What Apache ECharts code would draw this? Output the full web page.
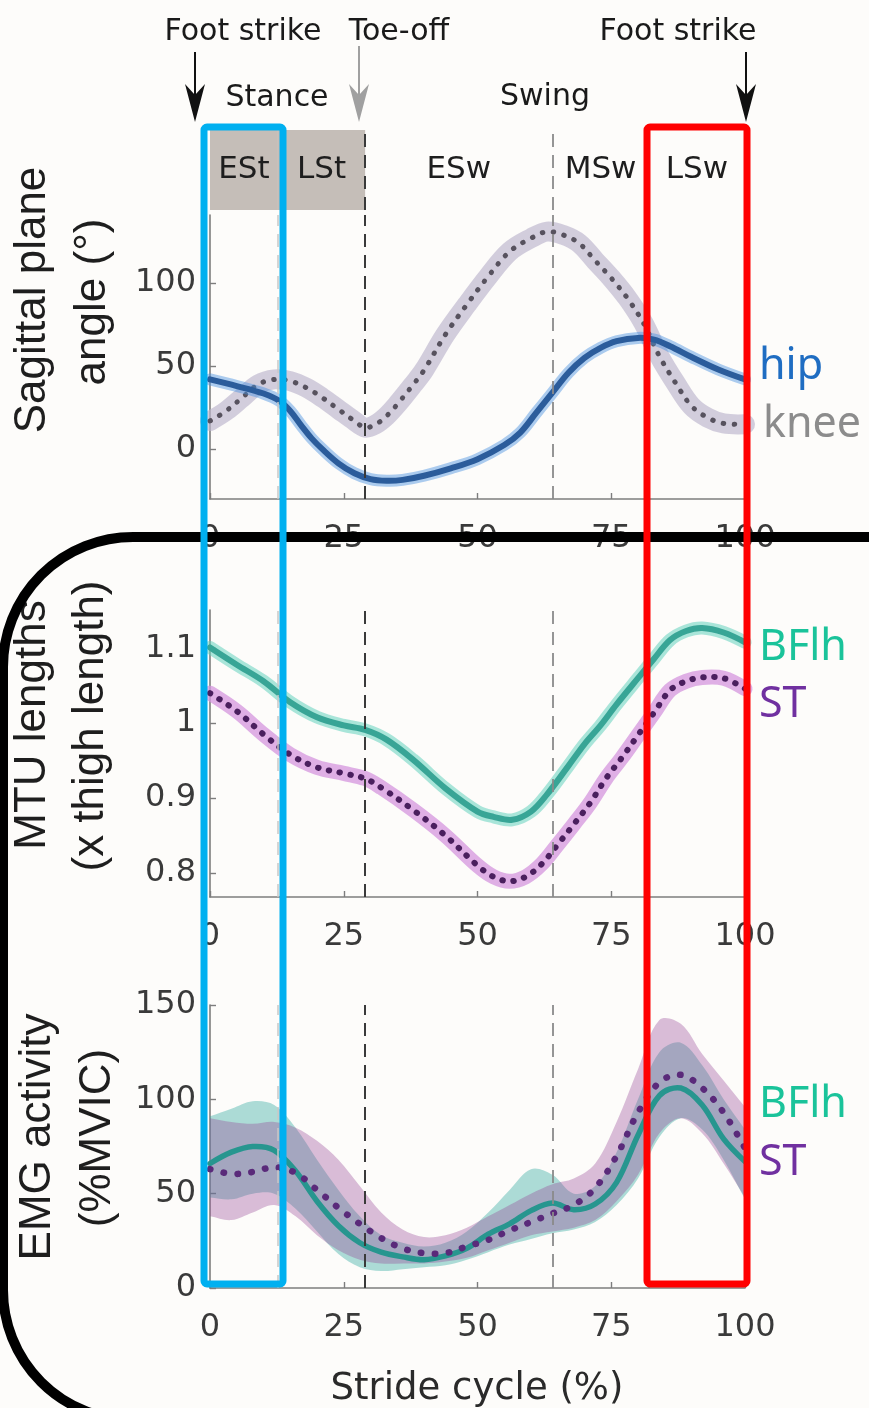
<!DOCTYPE html>
<html><head><meta charset="utf-8">
<script src="https://cdn.jsdelivr.net/npm/echarts@6/dist/echarts.min.js"></script>
<style>html,body{margin:0;padding:0;background:#fdfcfa}#c{width:869px;height:1408px}</style>
</head><body><div id="c"></div>
<script>
// ---------- data ----------
const xTicks = [0, 25, 50, 75, 100];
const phaseNames = ['ESt', 'LSt', 'ESw', 'MSw', 'LSw'];
const phaseBounds = [0, 12.7, 29, 64, 82, 100];
const eventLines = [12.7, 29, 64, 82];

const angleTicks = [0, 50, 100];
const mtuTicks = [0.8, 0.9, 1, 1.1];
const emgTicks = [0, 50, 100, 150];

const hipX = [0,5,10,13,15,17,19,21,24,27,30,33,36,40,45,50,55,58,61,64,67,70,73,76,80,83,86,90,95,100];
const hipY = [42,38,33.5,29,23,14.5,6.5,0,-8.5,-14.5,-18,-19,-18.5,-16,-11.5,-6,2.5,10,22,34,46,55,61,65,67,66,62,55.5,48,42];

const kneeX = [0,3,6,9,12,15,18,21,24,27,29,31,33,35,38,40,44,48,52,56,60,63,66,69,72,75,78,81,84,87,90,93,96,100];
const kneeY = [17,23,31,39,42,41,37,31,24,17,13,15,20,27,39,47.5,69,87,104,119,127,131,129,124,113.5,103,91,76,56,40,26,19,15.5,15];

const mtuBX = [0,5,10,15,20,25,29,33,38,44,50,53,56.5,60,63,67,70,73,76,80,83,86,89,92,96,100];
const mtuBY = [1.101,1.078,1.056,1.028,1.008,0.997,0.991,0.978,0.951,0.913,0.882,0.875,0.871,0.882,0.905,0.943,0.972,0.997,1.025,1.06,1.086,1.111,1.123,1.127,1.121,1.108];

const mtuSX = [0,5,10,15,20,25,29,32,38,44,50,53,56,59,62,65,68,71,74,77,80,83,86,89,92,96,100];
const mtuSY = [1.04,1.016,0.985,0.958,0.941,0.933,0.926,0.914,0.884,0.85,0.81,0.795,0.789,0.795,0.812,0.838,0.865,0.893,0.926,0.954,0.984,1.014,1.044,1.056,1.061,1.06,1.046];

const emgX   = [0,4,8,12,16,20,24,28,32,36,40,44,48,52,56,60,64,68,72,76,80,84,88,92,96,100];
const emgBY  = [66,72,75,73,62,46,33,24,19,16.5,15,17,21,28.5,34,41,45,41.5,44.5,56,81,102,106,97,79,67];
const emgSY  = [63,60.5,61.5,64,61,52,42.5,34,26.5,21,18.5,18.5,22,25.5,30.5,35,39.5,44,53,70,93,109,113,106,93,74];
const emgBLo = [48,47,50,50,42,30,18,11,9,10,11,12,15,19,23,26,29,31,35,44,58,80,90,84,68,47];
const emgBHi = [91,95,99,97,85,68,52,38,28,24,22,24,30,40,52,63,60,50,54,72,100,125,130,118,100,84];
const emgSLo = [38,36,40,44,38,28,20,15,13,13,13,14,16,20,24,28,30,32,36,46,60,82,90,82,66,48];
const emgSHi = [90,88,87,88,85,78,68,54,40,31,27,28,32,38,44,50,55,58,66,88,116,142,140,124,110,96];

// ---------- helpers ----------
const F = 'DejaVu Sans';
const AX = '#7d7d7d';
const chart = echarts.init(document.getElementById('c'), null, {renderer: 'canvas', width: 869, height: 1408});

const gridBase = {left: 210, width: 535, containLabel: false, outerBoundsMode: 'none'};
const grids = [
  Object.assign({top: 130, height: 80}, gridBase),
  Object.assign({top: 215, height: 284}, gridBase),
  Object.assign({top: 610, height: 287}, gridBase),
  Object.assign({top: 1005, height: 283}, gridBase)
];

function xAx(gi) {
  return {
    gridIndex: gi, type: 'value', min: 0, max: 100, interval: 25,
    axisLine: {show: true, onZero: false, lineStyle: {color: AX, width: 1.6}},
    axisTick: {show: true, inside: true, length: 6, lineStyle: {color: AX, width: 1.4}},
    axisLabel: {show: true, fontSize: 32, fontFamily: F, color: '#3a3a3a', margin: 24, customValues: xTicks},
    splitLine: {show: false}
  };
}
function yAx(gi, min, max, ticks) {
  return {
    gridIndex: gi, type: 'value', min: min, max: max,
    axisLine: {show: true, onZero: false, lineStyle: {color: AX, width: 1.6}},
    axisTick: {show: true, inside: true, length: 6, lineStyle: {color: AX, width: 1.4}, customValues: ticks},
    axisLabel: {show: true, fontSize: 32, fontFamily: F, color: '#3a3a3a', margin: 14, customValues: ticks},
    splitLine: {show: false}
  };
}

const dashStyles = [
  {color: '#c8c8c8', width: 1.5},
  {color: '#3a3a3a', width: 2},
  {color: '#8a8a8a', width: 1.8},
  {color: '#7a7a7a', width: 1.8}
];
function vlines(skipFirst) {
  const data = [];
  eventLines.forEach((x, i) => {
    if (skipFirst && i === 0) return;
    data.push({xAxis: x, lineStyle: Object.assign({type: [13, 8]}, dashStyles[i])});
  });
  return {silent: true, symbol: ['none', 'none'], label: {show: false}, animation: false, data: data};
}

// smooth curve through the data, positioned by the axis scales (api.coord)
function curve(gi, xs, ys, stroke, width, dash, extra) {
  return Object.assign({
    type: 'custom', xAxisIndex: gi, yAxisIndex: gi, silent: true, animation: false,
    data: [[xs[0], ys[0]]],
    renderItem: function (params, api) {
      const pts = xs.map((x, i) => api.coord([x, ys[i]]));
      const style = {stroke: stroke, lineWidth: width, fill: null, lineCap: 'round', lineJoin: 'round'};
      if (dash) style.lineDash = dash;
      return {type: 'polyline', shape: {points: pts, smooth: 0.35}, style: style};
    }
  }, extra || {});
}
// shaded band between lower and upper bounds
function band(gi, xs, lo, hi, color) {
  return {
    type: 'custom', xAxisIndex: gi, yAxisIndex: gi, silent: true, animation: false,
    data: [[xs[0], lo[0]]],
    renderItem: function (params, api) {
      const up = xs.map((x, i) => api.coord([x, hi[i]]));
      const dn = xs.map((x, i) => api.coord([x, lo[i]])).reverse();
      const pts = [up[0]].concat(up, [up[up.length - 1]], [dn[0]], dn, [dn[dn.length - 1]]);
      return {type: 'polygon', shape: {points: pts, smooth: 0.35}, style: {fill: color}};
    }
  };
}

// ---------- series ----------
const series = [];
series.push({
  type: 'line', xAxisIndex: 0, yAxisIndex: 0, data: [[0, 0]], symbol: 'none', silent: true,
  lineStyle: {opacity: 0}, animation: false,
  markArea: {
    silent: true, animation: false,
    label: {show: true, position: 'inside', fontSize: 31, fontFamily: F, color: '#1e1e1e'},
    data: phaseNames.map((n, i) => [
      {name: n, xAxis: phaseBounds[i], yAxis: 0, itemStyle: {color: i < 2 ? '#c5beb8' : 'rgba(0,0,0,0)'}},
      {xAxis: phaseBounds[i + 1], yAxis: 1}
    ])
  },
  markLine: vlines(true)
});
// panel 1: angles
series.push(curve(1, kneeX, kneeY, 'rgba(188,180,204,0.65)', 20));
series.push(curve(1, kneeX, kneeY, '#57525e', 5, [0.5, 10.5]));
series.push(curve(1, hipX, hipY, 'rgba(70,145,225,0.45)', 12));
series.push(curve(1, hipX, hipY, '#2b5c9b', 6));
series.push({type: 'line', xAxisIndex: 1, yAxisIndex: 1, data: [], markLine: vlines(false)});
// panel 2: MTU lengths
series.push(curve(2, mtuBX, mtuBY, 'rgba(100,210,190,0.55)', 13));
series.push(curve(2, mtuBX, mtuBY, '#38a596', 6));
series.push(curve(2, mtuSX, mtuSY, 'rgba(212,150,222,0.75)', 15));
series.push(curve(2, mtuSX, mtuSY, '#4a1f5e', 6, [0.5, 10.5]));
series.push({type: 'line', xAxisIndex: 2, yAxisIndex: 2, data: [], markLine: vlines(false)});
// panel 3: EMG
series.push(band(3, emgX, emgBLo, emgBHi, 'rgba(50,170,160,0.4)'));
series.push(band(3, emgX, emgSLo, emgSHi, 'rgba(150,70,150,0.35)'));
series.push(curve(3, emgX, emgBY, '#27968f', 5.5));
series.push(curve(3, emgX, emgSY, '#5a2a7a', 6.5, [0.5, 13.5]));
series.push({type: 'line', xAxisIndex: 3, yAxisIndex: 3, data: [], markLine: vlines(false)});

// ---------- graphics ----------
function txt(text, x, y, size, color, family, extra) {
  return Object.assign({
    type: 'text', x: x, y: y, z: 50, silent: true,
    style: {text: text, fill: color, font: size + 'px "' + family + '"', align: 'center', verticalAlign: 'middle'}
  }, extra || {});
}
function ltxt(text, x, y, color) {
  return {type: 'text', x: x, y: y, z: 50, silent: true,
    style: {text: text, fill: color, font: '43px "Noto Sans"', align: 'left', verticalAlign: 'middle'}};
}
function arrow(x, y0, color) {
  return [
    {type: 'line', z: 50, silent: true, shape: {x1: x, y1: y0, x2: x, y2: 100}, style: {stroke: color, lineWidth: 2}},
    {type: 'polygon', z: 50, silent: true, shape: {points: [[x, 122], [x - 10, 84], [x, 95], [x + 10, 84]]}, style: {fill: color}}
  ];
}
const ROT = Math.PI / 2;
const graphics = [
  txt('Foot strike', 243, 32, 30, '#1a1a1a', F),
  txt('Toe-off', 399, 32, 30, '#1a1a1a', F),
  txt('Foot strike', 678, 32, 30, '#1a1a1a', F),
  txt('Stance', 277, 98, 30, '#1a1a1a', F),
  txt('Swing', 545, 97, 30, '#1a1a1a', F),
  ...arrow(195, 52, '#111111'),
  ...arrow(359, 46, '#a0a0a0'),
  ...arrow(746, 52, '#111111'),
  txt('Sagittal plane', 33, 300, 44, '#1e1e1e', 'Liberation Sans', {rotation: ROT}),
  txt('angle (°)', 93, 302, 44, '#1e1e1e', 'Liberation Sans', {rotation: ROT}),
  txt('MTU lengths', 33, 725, 44, '#1e1e1e', 'Liberation Sans', {rotation: ROT}),
  txt('(x thigh length)', 91, 726, 44, '#1e1e1e', 'Liberation Sans', {rotation: ROT}),
  txt('EMG activity', 38, 1137, 44, '#1e1e1e', 'Liberation Sans', {rotation: ROT}),
  txt('(%MVIC)', 98, 1138, 44, '#1e1e1e', 'Liberation Sans', {rotation: ROT}),
  txt('Stride cycle (%)', 477, 1389, 37, '#2a2a2a', F),
  ltxt('hip', 759, 367, '#1f6dc2'),
  ltxt('knee', 763, 425, '#8c8c8c'),
  ltxt('BFlh', 759, 648, '#1ac39a'),
  ltxt('ST', 759, 705, '#7030a0'),
  ltxt('BFlh', 759, 1105, '#1ac39a'),
  ltxt('ST', 759, 1163, '#7030a0'),
  {type: 'rect', z: 100, silent: true, shape: {x: 3, y: 537, width: 1100, height: 883, r: 130},
    style: {fill: 'none', stroke: '#000000', lineWidth: 10}},
  {type: 'rect', z: 110, silent: true, shape: {x: 204, y: 127, width: 79, height: 1157, r: 3},
    style: {fill: 'none', stroke: '#00b0f0', lineWidth: 7}},
  {type: 'rect', z: 110, silent: true, shape: {x: 647, y: 127, width: 100, height: 1157, r: 3},
    style: {fill: 'none', stroke: '#ff0000', lineWidth: 7}}
];

chart.setOption({
  backgroundColor: '#fdfcfa',
  animation: false,
  grid: grids,
  xAxis: [
    {gridIndex: 0, type: 'value', min: 0, max: 100, show: false},
    xAx(1), xAx(2), xAx(3)
  ],
  yAxis: [
    {gridIndex: 0, type: 'value', min: 0, max: 1, show: false},
    yAx(1, -30, 141, angleTicks),
    yAx(2, 0.768, 1.151, mtuTicks),
    yAx(3, 0, 150, emgTicks)
  ],
  series: series,
  graphic: {elements: graphics}
});
</script>
</body></html>
